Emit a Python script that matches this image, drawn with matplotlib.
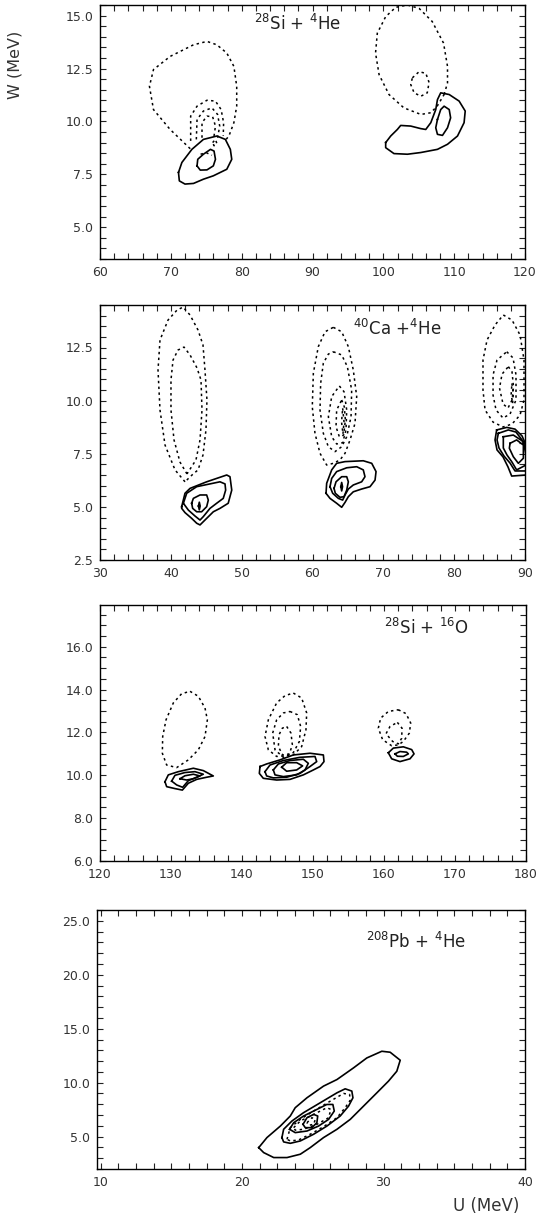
import matplotlib
matplotlib.use("Agg")
import matplotlib.pyplot as plt
from matplotlib.ticker import MultipleLocator, FormatStrFormatter

plt.rcParams["font.family"] = ["DejaVu Sans"]
plt.rcParams["mathtext.default"] = "regular"

# ---- panel 1 : 28Si + 4He  (U, W) contour points ----
si_he_a_dot_big = [(72.74, 8.71), (69.9, 9.62), (67.55, 10.56), (66.98, 11.66), (67.55, 12.45),
                   (69.9, 13.07), (73.2, 13.62), (75.1, 13.78), (76.5, 13.62), (77.9, 13.23),
                   (78.9, 12.6), (79.3, 11.66), (79.3, 10.72), (78.9, 9.94), (78.2, 9.31), (77.8, 9.15)]
si_he_a_dot_1 = [(72.8, 9.08), (72.8, 10.25), (73.7, 10.72), (75.1, 11.0), (76.3, 10.96),
                 (77.1, 10.56), (77.45, 9.94), (77.4, 9.31)]
si_he_a_dot_2 = [(73.6, 9.15), (73.7, 10.09), (74.6, 10.49), (75.8, 10.64), (76.6, 10.33),
                 (76.9, 9.78), (76.6, 9.23)]
si_he_a_dot_3 = [(74.4, 9.23), (74.4, 9.94), (75.1, 10.25), (75.9, 10.22), (76.3, 9.78), (76.1, 9.31)]
si_he_a_dot_4 = [(75.9, 9.0), (76.3, 9.15), (76.5, 8.95), (76.1, 8.85)]
si_he_a_dot_5 = [(74.2, 8.45), (75.0, 8.52), (75.8, 8.4)]
si_he_a_sol_1 = [(71.08, 7.59), (71.56, 8.06), (72.97, 8.68), (74.6, 9.15), (76.5, 9.31), (77.7, 9.15),
                 (78.4, 8.68), (78.6, 8.21), (77.9, 7.74), (76.0, 7.43), (74.6, 7.27), (73.2, 7.07),
                 (72.0, 7.04), (71.2, 7.19)]
si_he_a_sol_2 = [(73.7, 7.9), (73.8, 8.21), (74.6, 8.45), (75.6, 8.68), (76.1, 8.6), (76.3, 8.21),
                 (76.0, 7.9), (75.1, 7.71), (74.15, 7.7)]
si_he_b_dot_big = [(108.58, 11.27), (109.06, 11.82), (109.06, 12.6), (108.5, 13.7), (106.9, 14.72),
                   (105.05, 15.34), (103.4, 15.5), (101.75, 15.39), (100.33, 14.95), (99.15, 14.17),
                   (98.9, 13.23), (99.4, 12.21), (100.8, 11.27), (102.9, 10.64), (105.3, 10.33),
                   (106.7, 10.41), (107.6, 10.72)]
si_he_b_dot_1 = [(104.1, 12.06), (105.05, 12.35), (106.0, 12.27), (106.46, 11.84), (106.2, 11.35),
                 (105.3, 11.19), (104.35, 11.35), (103.87, 11.74)]
si_he_b_sol_1 = [(100.33, 9.0), (101.04, 9.31), (101.98, 9.62), (102.45, 9.81), (103.87, 9.78),
                 (105.28, 9.66), (105.99, 9.62), (106.7, 9.94), (107.4, 10.56), (107.64, 11.03),
                 (108.1, 11.35), (109.3, 11.27), (110.7, 10.96), (111.56, 10.49), (111.4, 9.94),
                 (110.47, 9.31), (109.06, 8.92), (107.64, 8.68), (105.28, 8.53), (103.4, 8.45),
                 (101.5, 8.48), (100.33, 8.76)]
si_he_b_sol_2 = [(107.64, 10.09), (108.1, 10.56), (108.58, 10.72), (109.3, 10.56), (109.5, 10.17),
                 (109.06, 9.7), (108.35, 9.34), (107.64, 9.39), (107.4, 9.7)]

# ---- panel 2 : 40Ca + 4He ----
ca_he_a_dot_1 = [(42.0, 6.18), (40.59, 6.74), (39.18, 7.91), (38.47, 9.56), (38.19, 11.44),
                 (38.47, 12.85), (39.6, 13.79), (40.87, 14.26), (41.72, 14.4), (42.71, 14.03),
                 (43.84, 13.32), (44.54, 12.62), (44.82, 11.44), (45.1, 10.03), (44.96, 8.62),
                 (44.54, 7.44), (43.84, 6.74), (42.99, 6.5)]
ca_he_a_dot_2 = [(42.28, 6.55), (41.29, 7.11), (40.45, 8.15), (40.02, 9.56), (40.02, 10.97),
                 (40.31, 11.91), (41.01, 12.38), (41.86, 12.52), (42.71, 12.15), (43.69, 11.54),
                 (44.26, 10.97), (44.4, 9.56), (44.12, 8.15), (43.55, 7.21), (42.99, 6.92)]
ca_he_a_sol_1 = [(41.53, 5.01), (42.0, 5.64), (42.71, 5.87), (45.06, 6.18), (47.89, 6.5), (48.35, 6.42),
                 (48.6, 5.79), (48.1, 5.17), (46.94, 4.93), (46.0, 4.77), (45.06, 4.46), (44.12, 4.15),
                 (43.65, 4.23), (42.94, 4.46), (42.0, 4.73), (41.53, 4.93)]
ca_he_a_sol_2 = [(41.77, 5.17), (42.24, 5.64), (43.65, 5.95), (46.94, 6.18), (47.65, 6.08), (47.74, 5.79),
                 (47.4, 5.4), (46.47, 5.17), (45.53, 4.93), (44.58, 4.54), (44.12, 4.38), (43.41, 4.57),
                 (42.47, 4.85)]
ca_he_a_sol_3 = [(42.94, 5.17), (43.18, 5.4), (44.12, 5.56), (45.06, 5.56), (45.29, 5.32), (45.06, 5.01),
                 (44.35, 4.77), (43.65, 4.77), (43.08, 4.93)]
ca_he_a_sol_4 = [(43.9, 5.04), (44.02, 5.22), (44.14, 5.04), (44.02, 4.86)]
ca_he_b_dot_1 = [(62.94, 13.45), (64.12, 13.24), (65.06, 12.54), (65.76, 11.44), (66.24, 10.19),
                 (66.0, 8.93), (65.3, 8.15), (64.59, 7.52), (63.88, 7.21), (62.94, 7.05), (62.0, 6.97),
                 (61.06, 7.52), (60.35, 8.46), (59.97, 9.71), (60.12, 11.29), (60.82, 12.54), (61.77, 13.24)]
ca_he_b_dot_2 = [(62.94, 12.3), (64.12, 12.15), (64.92, 11.6), (65.53, 10.5), (65.44, 9.24), (64.83, 8.3),
                 (64.12, 7.83), (63.18, 7.6), (62.24, 7.83), (61.53, 8.46), (61.06, 9.56), (61.15, 10.81),
                 (61.53, 11.76), (62.24, 12.19)]
ca_he_b_dot_3 = [(63.79, 10.69), (64.45, 10.42), (64.83, 9.56), (64.73, 8.62), (64.26, 8.02),
                 (63.41, 7.96), (62.71, 8.3), (62.24, 9.24), (62.71, 10.19)]
ca_he_b_dot_4 = [(64.12, 10.03), (64.49, 9.71), (64.64, 9.09), (64.4, 8.38), (63.79, 8.3), (63.32, 8.77),
                 (63.41, 9.56)]
ca_he_b_dot_5 = [(64.26, 9.64), (64.45, 9.0), (64.3, 8.43), (64.1, 9.0)]
ca_he_b_sol_1 = [(61.91, 5.64), (62.0, 6.11), (62.71, 6.74), (63.41, 7.05), (64.59, 7.13), (67.17, 7.17),
                 (68.36, 7.05), (68.97, 6.66), (68.83, 6.26), (68.12, 5.95), (66.94, 5.84), (65.76, 5.71),
                 (65.06, 5.48), (64.59, 5.21), (64.12, 4.98), (63.41, 5.17), (62.47, 5.4)]
ca_he_b_sol_2 = [(62.47, 5.95), (62.71, 6.34), (63.41, 6.66), (64.83, 6.84), (66.24, 6.89), (67.17, 6.74),
                 (67.41, 6.42), (66.94, 6.18), (65.76, 6.03), (65.06, 5.84), (64.59, 5.56), (64.26, 5.32),
                 (63.65, 5.4), (62.85, 5.64)]
ca_he_b_sol_3 = [(63.04, 5.87), (63.32, 6.18), (64.12, 6.42), (64.83, 6.42), (65.06, 6.18), (64.83, 5.79),
                 (64.45, 5.48), (63.88, 5.45), (63.22, 5.64)]
ca_he_b_sol_4 = [(64.0, 5.95), (64.12, 6.15), (64.24, 5.95), (64.12, 5.75)]
ca_he_c_dot_1 = [(86.94, 14.03), (88.17, 13.79), (89.3, 13.09), (89.86, 11.91), (89.86, 10.03),
                 (89.3, 9.32), (88.17, 8.9), (86.9, 8.76), (85.49, 8.99), (84.36, 9.56), (84.07, 10.5),
                 (84.07, 11.91), (84.64, 12.85), (85.77, 13.56)]
ca_he_c_dot_2 = [(87.42, 12.3), (88.31, 12.01), (88.73, 11.21), (88.73, 10.03), (87.89, 9.37),
                 (86.9, 9.18), (85.91, 9.56), (85.49, 10.26), (85.49, 11.21), (86.05, 11.91)]
ca_he_c_dot_3 = [(87.65, 11.6), (88.17, 11.35), (88.38, 10.64), (88.17, 10.03), (87.6, 9.65),
                 (86.9, 9.84), (86.4, 10.59), (86.76, 11.25)]
ca_he_c_dot_4 = [(88.15, 10.81), (88.35, 10.3), (88.25, 9.87), (88.05, 10.3)]
ca_he_c_sol_1 = [(86.0, 8.62), (87.42, 8.74), (88.59, 8.66), (89.58, 8.34), (90.14, 7.91), (90.14, 6.5),
                 (88.12, 6.45), (87.6, 6.88), (86.9, 7.35), (86.05, 7.68), (85.77, 8.15)]
ca_he_c_sol_2 = [(86.24, 8.46), (87.65, 8.62), (88.73, 8.52), (89.58, 8.15), (90.14, 7.68), (90.14, 6.69),
                 (88.59, 6.69), (87.89, 7.06), (87.04, 7.39), (86.33, 7.77), (86.05, 8.15)]
ca_he_c_sol_3 = [(86.94, 8.3), (88.35, 8.38), (89.77, 8.07), (90.14, 7.44), (90.14, 6.97), (88.82, 6.74),
                 (88.12, 7.13), (87.46, 7.44), (86.94, 7.77)]
ca_he_c_sol_4 = [(87.89, 7.99), (88.82, 8.15), (89.77, 7.91), (89.77, 7.29), (89.06, 7.05), (88.35, 7.36),
                 (87.79, 7.76)]

# ---- panel 3 : 28Si + 16O ----
si_o_a_dot_1 = [(132.68, 13.92), (133.85, 13.69), (134.79, 13.14), (135.12, 12.59), (134.79, 11.81),
                (133.85, 11.19), (132.44, 10.72), (130.8, 10.36), (129.39, 10.48), (128.78, 11.03),
                (128.83, 11.81), (129.3, 12.59), (130.33, 13.38), (131.5, 13.81)]
si_o_a_sol_1 = [(129.15, 9.7), (129.62, 10.02), (131.03, 10.17), (133.15, 10.33), (134.55, 10.22),
                (135.96, 9.97), (135.02, 9.91), (133.62, 9.81), (132.44, 9.63), (131.6, 9.31),
                (130.56, 9.38), (129.39, 9.47)]
si_o_a_sol_2 = [(130.09, 9.73), (130.56, 10.0), (131.97, 10.13), (133.38, 10.17), (134.55, 10.05),
                (133.62, 9.91), (132.44, 9.75), (131.64, 9.44), (130.8, 9.55)]
si_o_a_sol_3 = [(131.27, 9.84), (131.97, 9.98), (133.15, 10.05), (134.08, 9.97), (133.15, 9.84), (132.2, 9.78)]
si_o_b_dot_1 = [(147.23, 13.84), (148.4, 13.61), (149.11, 12.91), (149.01, 12.13), (148.4, 11.34),
                (147.23, 10.95), (144.88, 10.88), (143.71, 11.19), (143.24, 11.81), (143.71, 12.59),
                (144.88, 13.38), (146.06, 13.72)]
si_o_b_dot_2 = [(146.76, 12.98), (147.79, 12.83), (148.26, 12.28), (148.08, 11.58), (147.23, 11.06),
                (145.82, 10.84), (144.65, 11.19), (144.32, 11.97), (144.88, 12.59), (145.82, 12.91)]
si_o_b_dot_3 = [(146.29, 12.28), (146.9, 11.97), (147.09, 11.42), (146.67, 11.0), (145.73, 10.95),
                (145.12, 11.34), (145.21, 11.89), (145.68, 12.2)]
si_o_b_sol_1 = [(142.54, 10.41), (143.47, 10.53), (145.35, 10.72), (147.23, 10.95), (149.58, 11.03),
                (151.46, 10.95), (151.55, 10.64), (150.99, 10.41), (150.05, 10.25), (148.64, 10.02),
                (146.76, 9.81), (144.88, 9.78), (143.0, 9.86), (142.44, 10.09)]
si_o_b_sol_2 = [(143.24, 10.17), (143.94, 10.48), (145.82, 10.69), (148.17, 10.84), (150.28, 10.88),
                (150.52, 10.64), (149.58, 10.41), (148.17, 10.09), (146.29, 9.91), (144.41, 9.88), (143.47, 9.97)]
si_o_b_sol_3 = [(144.41, 10.25), (145.12, 10.53), (146.76, 10.69), (148.64, 10.75), (149.34, 10.56),
                (148.87, 10.25), (147.7, 10.02), (145.82, 9.94), (144.65, 10.02)]
si_o_b_sol_4 = [(145.59, 10.38), (146.29, 10.59), (147.7, 10.59), (148.54, 10.44), (147.7, 10.25), (146.29, 10.19)]
si_o_c_dot_1 = [(162.02, 13.06), (163.1, 12.88), (163.76, 12.44), (163.57, 11.97), (162.72, 11.58),
                (162.02, 11.42), (161.08, 11.38), (159.81, 11.66), (159.2, 12.2), (159.53, 12.67), (160.61, 12.98)]
si_o_c_dot_2 = [(161.88, 12.47), (162.54, 12.2), (162.49, 11.73), (162.02, 11.47), (161.22, 11.58),
                (160.28, 11.94), (160.85, 12.28)]
si_o_c_sol_1 = [(160.61, 11.05), (161.31, 11.27), (162.72, 11.33), (163.9, 11.2), (164.23, 11.0),
                (163.66, 10.77), (162.25, 10.64), (161.08, 10.77)]
si_o_c_sol_2 = [(161.55, 11.0), (162.25, 11.11), (163.19, 11.08), (163.43, 11.0), (162.72, 10.88), (161.88, 10.89)]

# ---- panel 4 : 208Pb + 4He ----
pb_he_sol_1 = [(21.18, 3.98), (21.76, 4.91), (22.71, 5.98), (23.41, 6.91), (23.76, 7.68), (24.59, 8.6),
               (25.76, 9.68), (26.71, 10.29), (27.88, 11.37), (28.82, 12.29), (29.88, 12.91), (30.47, 12.82),
               (31.18, 12.08), (30.94, 11.06), (30.35, 10.14), (29.53, 9.06), (28.59, 7.83), (27.65, 6.6),
               (26.71, 5.68), (25.76, 4.91), (24.82, 3.98), (24.12, 3.37), (23.18, 3.06), (22.24, 3.06),
               (21.53, 3.52)]
pb_he_sol_2 = [(22.82, 4.91), (22.94, 5.68), (23.53, 6.45), (24.35, 7.22), (25.53, 8.14), (26.71, 9.06),
               (27.29, 9.43), (27.76, 9.22), (27.84, 8.6), (27.53, 7.83), (26.94, 6.91), (26.0, 5.98),
               (25.06, 5.22), (24.12, 4.6), (23.41, 4.38), (22.94, 4.51)]
pb_he_dot_2 = [(23.18, 4.75), (23.41, 5.83), (24.12, 6.6), (25.06, 7.37), (26.24, 8.29), (27.18, 9.0),
               (27.6, 8.91), (27.65, 8.38), (27.29, 7.68), (26.71, 6.75), (25.76, 5.92), (24.82, 5.22),
               (24.0, 4.69), (23.41, 4.6)]
pb_he_sol_3 = [(23.36, 5.68), (23.65, 6.29), (24.35, 6.91), (25.29, 7.52), (25.99, 7.98), (26.42, 7.98),
               (26.52, 7.37), (26.12, 6.6), (25.41, 5.98), (24.59, 5.52), (23.76, 5.37)]
pb_he_dot_3 = [(23.65, 5.83), (24.12, 6.45), (25.06, 7.06), (26.0, 7.68), (26.28, 7.52), (26.12, 6.75),
               (25.29, 6.14), (24.35, 5.68), (23.76, 5.6)]
pb_he_sol_4 = [(24.31, 6.14), (24.59, 6.75), (25.06, 7.06), (25.35, 6.91), (25.29, 6.29), (24.94, 5.83),
               (24.47, 5.83)]
pb_he_dot_4 = [(24.59, 6.29), (24.94, 6.75), (25.18, 6.6), (25.06, 6.14), (24.71, 6.05)]

titles = [r"$^{28}$Si + $^{4}$He", r"$^{40}$Ca +$^{4}$He", r"$^{28}$Si + $^{16}$O", r"$^{208}$Pb + $^{4}$He"]
x_limits = [(60, 120), (30, 90), (120, 180), (9.75, 40)]
y_limits = [(3.5, 15.5), (2.5, 14.5), (6.0, 17.95), (2.0, 26.0)]

panels = [
    dict(solid=[si_he_a_sol_1, si_he_a_sol_2, si_he_b_sol_1, si_he_b_sol_2],
         dotted=[si_he_b_dot_big, si_he_b_dot_1, si_he_a_dot_4],
         dotted_open=[si_he_a_dot_big, si_he_a_dot_1, si_he_a_dot_2, si_he_a_dot_3, si_he_a_dot_5]),
    dict(solid=[ca_he_a_sol_1, ca_he_a_sol_2, ca_he_a_sol_3, ca_he_a_sol_4, ca_he_b_sol_1, ca_he_b_sol_2,
                ca_he_b_sol_3, ca_he_b_sol_4, ca_he_c_sol_1, ca_he_c_sol_2, ca_he_c_sol_3, ca_he_c_sol_4],
         dotted=[ca_he_a_dot_1, ca_he_a_dot_2, ca_he_b_dot_1, ca_he_b_dot_2, ca_he_b_dot_3, ca_he_b_dot_4,
                 ca_he_b_dot_5, ca_he_c_dot_1, ca_he_c_dot_2, ca_he_c_dot_3, ca_he_c_dot_4],
         dotted_open=[]),
    dict(solid=[si_o_a_sol_1, si_o_a_sol_2, si_o_a_sol_3, si_o_b_sol_1, si_o_b_sol_2, si_o_b_sol_3,
                si_o_b_sol_4, si_o_c_sol_1, si_o_c_sol_2],
         dotted=[si_o_a_dot_1, si_o_b_dot_1, si_o_b_dot_2, si_o_b_dot_3, si_o_c_dot_1, si_o_c_dot_2],
         dotted_open=[]),
    dict(solid=[pb_he_sol_1, pb_he_sol_2, pb_he_sol_3, pb_he_sol_4],
         dotted=[pb_he_dot_2, pb_he_dot_3, pb_he_dot_4],
         dotted_open=[]),
]

fig = plt.figure(figsize=(5.47, 12.2), dpi=100)
ax_rects = [
    [100 / 547, 1 - 259 / 1220, 425 / 547, 254 / 1220],
    [100 / 547, 1 - 560 / 1220, 425 / 547, 255 / 1220],
    [100 / 547, 1 - 861 / 1220, 426 / 547, 256 / 1220],
    [97 / 547, 1 - 1169 / 1220, 428 / 547, 259 / 1220],
]
y_major = [2.5, 2.5, 2.0, 5.0]
y_minor = [0.5, 0.5, 0.5, 1.0]
x_minor = [2.0, 2.0, 2.0, 1.25]
title_pos = [(0.465, 0.925), (0.7, 0.905), (0.765, 0.91), (0.745, 0.875)]


def draw(ax, pts, style, closed=True):
    xs = [p[0] for p in pts]
    ys = [p[1] for p in pts]
    if closed:
        xs.append(xs[0])
        ys.append(ys[0])
    if style == "solid":
        ax.plot(xs, ys, color="black", lw=1.2, solid_joinstyle="round")
    else:
        ax.plot(xs, ys, color="black", lw=1.1, linestyle=(0, (1.6, 2.2)))


for i, rect in enumerate(ax_rects):
    ax = fig.add_axes(rect)
    for c in panels[i]["dotted"]:
        draw(ax, c, "dotted")
    for c in panels[i]["dotted_open"]:
        draw(ax, c, "dotted", closed=False)
    for c in panels[i]["solid"]:
        draw(ax, c, "solid")
    ax.set_xlim(*x_limits[i])
    ax.set_ylim(*y_limits[i])
    ax.xaxis.set_major_locator(MultipleLocator(10))
    ax.xaxis.set_minor_locator(MultipleLocator(x_minor[i]))
    ax.yaxis.set_major_locator(MultipleLocator(y_major[i]))
    ax.yaxis.set_minor_locator(MultipleLocator(y_minor[i]))
    ax.yaxis.set_major_formatter(FormatStrFormatter("%.1f"))
    ax.xaxis.set_major_formatter(FormatStrFormatter("%d"))
    ax.tick_params(which="both", direction="in", top=True, right=True, length=4.5, width=0.8,
                   labelsize=9, colors="#222222", labelcolor="#333333", pad=5)
    for s in ax.spines.values():
        s.set_linewidth(1.0)
    ax.text(title_pos[i][0], title_pos[i][1], titles[i], transform=ax.transAxes, fontsize=12,
            ha="center", va="center", color="#222222")

fig.text(0.027, 0.947, "W (MeV)", rotation=90, ha="center", va="center", fontsize=11.5, color="#333333")
fig.text(0.889, 0.0115, "U (MeV)", ha="center", va="center", fontsize=12, color="#333333")

fig.savefig("out.png", dpi=100)
